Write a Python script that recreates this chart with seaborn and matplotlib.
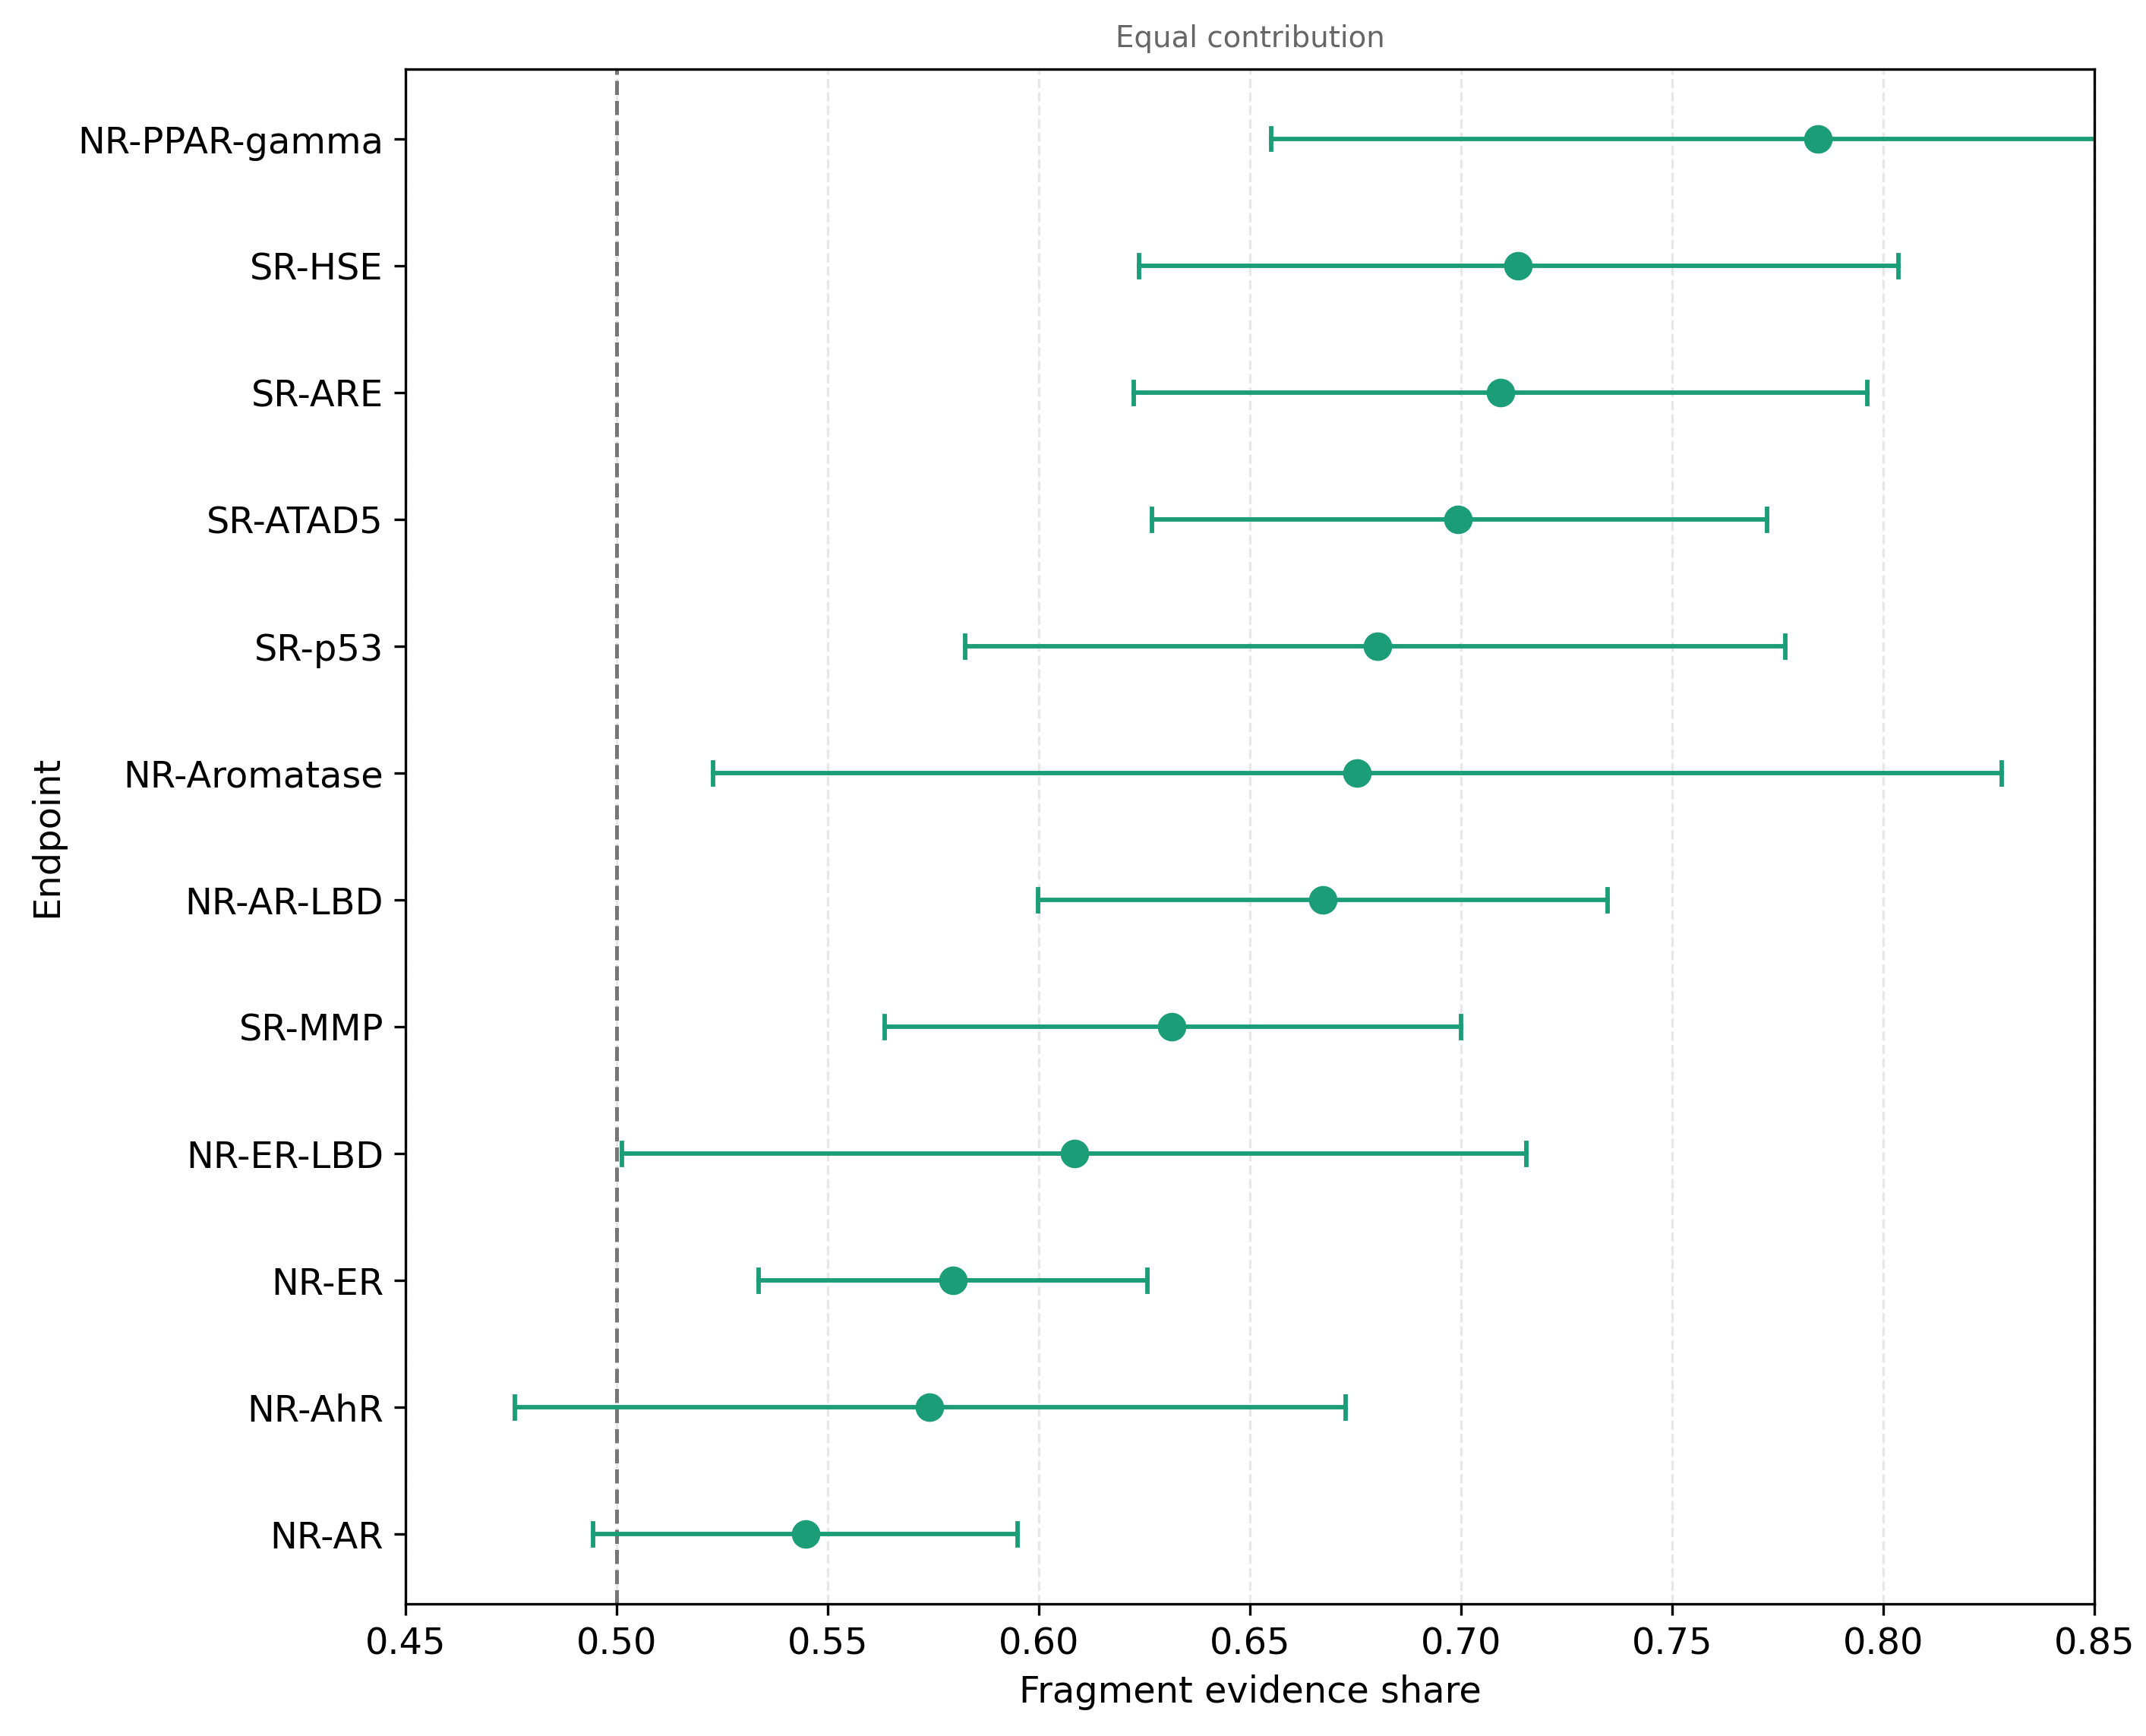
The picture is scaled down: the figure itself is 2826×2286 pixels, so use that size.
import numpy as np
import pandas as pd
import seaborn as sns
import matplotlib.pyplot as plt

# endpoints, top to bottom
endpoints = ['NR-PPAR-gamma', 'SR-HSE', 'SR-ARE', 'SR-ATAD5', 'SR-p53', 'NR-Aromatase',
             'NR-AR-LBD', 'SR-MMP', 'NR-ER-LBD', 'NR-ER', 'NR-AhR', 'NR-AR']
share = [0.7845, 0.7135, 0.7093, 0.6993, 0.6801, 0.6753,
         0.6672, 0.6315, 0.6085, 0.5797, 0.5741, 0.5447]
ci_low = [0.6550, 0.6237, 0.6224, 0.6267, 0.5826, 0.5229,
          0.5998, 0.5635, 0.5012, 0.5336, 0.4759, 0.4944]
ci_high = [0.9140, 0.8036, 0.7962, 0.7725, 0.7768, 0.8280,
           0.7346, 0.6999, 0.7155, 0.6257, 0.6727, 0.5949]

color = '#1b9e77'

# long form: lower bound, estimate, upper bound per endpoint
# median -> estimate, 100% percentile interval -> [low, high]
rows = []
for name, lo, mid, hi in zip(endpoints, ci_low, share, ci_high):
    for v in (lo, mid, hi):
        rows.append({'Endpoint': name, 'share': v})
df = pd.DataFrame(rows)

plt.rcParams['font.family'] = ['DejaVu Sans']

fig, ax = plt.subplots(figsize=(9.42, 7.62), dpi=300)
fig.subplots_adjust(left=0.189, right=0.976, bottom=0.076, top=0.960)

ax.grid(axis='x', linestyle='--', color='#dddddd', linewidth=0.8, alpha=0.7, zorder=0)
ax.set_axisbelow(True)
ax.axvline(0.5, color='#777777', linestyle='--', linewidth=1.2, zorder=1)

sns.pointplot(data=df, x='share', y='Endpoint', order=endpoints,
              estimator='median', errorbar=('pi', 100),
              color=color, linestyle='none', markersize=7,
              capsize=0.17, err_kws={'linewidth': 1.4}, ax=ax)

ax.set_xlim(0.45, 0.85)
ax.set_ylim(len(endpoints) - 0.45, -0.55)
ax.set_xticks(np.arange(0.45, 0.851, 0.05))
ax.set_xticklabels([f'{t:.2f}' for t in np.arange(0.45, 0.851, 0.05)])
ax.tick_params(labelsize=11.5)
ax.set_xlabel('Fragment evidence share', fontsize=11.5)
ax.set_ylabel('Endpoint', fontsize=11.5)
ax.set_title('Equal contribution', fontsize=9.3, color='#666666', pad=7)
for s in ax.spines.values():
    s.set_visible(True)
    s.set_color('black')

plt.savefig('out.png', dpi=300)
